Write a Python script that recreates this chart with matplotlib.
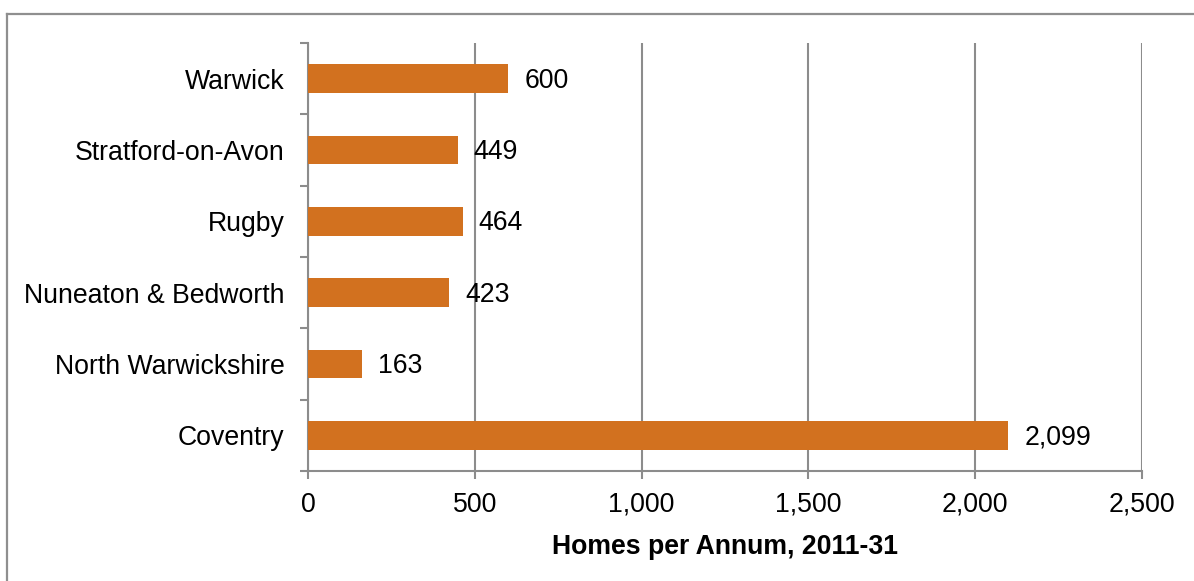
import matplotlib
matplotlib.use("Agg")
import matplotlib.pyplot as plt
from matplotlib.lines import Line2D
import numpy as np

categories = ["Coventry", "North Warwickshire", "Nuneaton & Bedworth", "Rugby",
              "Stratford-on-Avon", "Warwick"]
values = [2099, 163, 423, 464, 449, 600]
xticks = [0, 500, 1000, 1500, 2000, 2500]
xlabel = "Homes per Annum, 2011-31"

plt.rcParams['font.family'] = ['Liberation Sans', 'DejaVu Sans']

W, H = 1194, 581
fig = plt.figure(figsize=(W / 100, H / 100), dpi=100)
fig.patch.set_facecolor('white')

left, right, top, bottom = 308, 1142, 43, 471
ax = fig.add_axes([left / W, 1 - bottom / H, (right - left) / W, (bottom - top) / H])

grey = '#8C8C8C'
bar_color = '#D2711F'
fs = 19.2

y = np.arange(len(categories))
ax.barh(y, values, height=0.4, color=bar_color, zorder=3)

for yi, v in zip(y, values):
    ax.annotate(f"{v:,}", xy=(v, yi), xytext=(11.5, -1.5), textcoords='offset points',
                ha='left', va='center', fontsize=fs, color='black', zorder=4)

ax.set_xlim(0, 2500)
ax.set_ylim(-0.5, len(categories) - 0.5)
ax.set_xticks(xticks)
ax.set_xticklabels([f"{t:,}" for t in xticks], fontsize=fs)
ax.set_yticks(y)
ax.set_yticklabels(categories, fontsize=fs)
ax.set_yticks(np.arange(-0.5, len(categories), 1.0), minor=True)

ax.tick_params(axis='y', which='major', length=0, pad=17)
ax.tick_params(axis='y', which='minor', length=6, width=1.5, color=grey, direction='out')
ax.tick_params(axis='x', which='major', length=6, width=1.5, color=grey, direction='out', pad=9)

ax.grid(axis='x', color=grey, linewidth=1.5, zorder=0)
ax.set_axisbelow(True)

for s in ['top', 'right']:
    ax.spines[s].set_visible(False)
for s in ['left', 'bottom']:
    ax.spines[s].set_color(grey)
    ax.spines[s].set_linewidth(1.5)

ax.set_xlabel(xlabel, fontsize=fs, fontweight='bold')
ax.xaxis.set_label_coords(0.5, (bottom - 534) / (bottom - top))

# outer chart border (top and left visible)
fig.add_artist(Line2D([7 / W, 7 / W], [0, 1 - 13.5 / H], transform=fig.transFigure,
                      color='#8F8F8F', linewidth=1.6))
fig.add_artist(Line2D([7 / W, 1193 / W], [1 - 13.5 / H, 1 - 13.5 / H], transform=fig.transFigure,
                      color='#8F8F8F', linewidth=1.6))

fig.savefig("out.png", dpi=100)
